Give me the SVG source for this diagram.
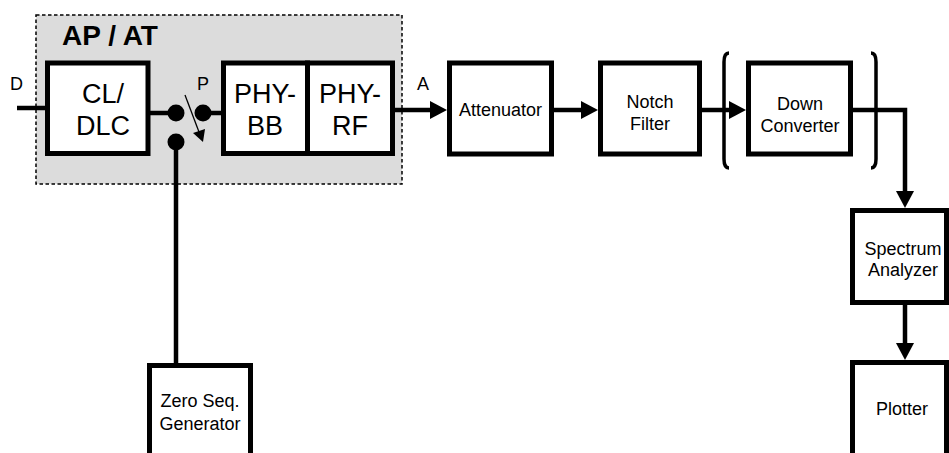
<svg xmlns="http://www.w3.org/2000/svg" width="949" height="453" viewBox="0 0 949 453">
<style>
.box{fill:#fff;stroke:#000;stroke-width:5}
.t{font-family:"Liberation Sans",Arial,sans-serif;font-size:18px;fill:#000;text-anchor:middle}
.big{font-family:"Liberation Sans",Arial,sans-serif;font-size:27px;fill:#000;text-anchor:middle}
.lbl{font-family:"Liberation Sans",Arial,sans-serif;font-size:18px;fill:#000}
.ln{fill:none;stroke:#000;stroke-width:4.5}
.arr{fill:none;stroke:#000;stroke-width:4.5;marker-end:url(#ah)}
.br{fill:none;stroke:#000;stroke-width:3.5}
</style>
<defs>
<marker id="ah" markerUnits="userSpaceOnUse" markerWidth="17" markerHeight="18" refX="0" refY="9" orient="auto">
<path d="M0,0 L17,9 L0,18 z" fill="#000"/>
</marker>
</defs>
<rect width="949" height="453" fill="#fff"/>
<g id="apat">
<rect x="36" y="15" width="366" height="169" fill="#dcdcdc" stroke="#000" stroke-width="1.5" stroke-dasharray="3.5,2.5"/>
<text x="62" y="45" style="font-family:'Liberation Sans',Arial,sans-serif;font-size:28px;font-weight:bold">AP / AT</text>
</g>
<g id="connectors">
<path class="ln" d="M17,108 H47"/>
<path class="ln" d="M148,113 H176"/>
<path class="ln" d="M203,113 H223"/>
<path class="ln" d="M176,142 V365"/>
<path class="arr" d="M392,110 H430"/>
<path class="arr" d="M554,110 H581"/>
<path class="arr" d="M701,110 H729"/>
<path class="arr" d="M851,110 H905 V191"/>
<path class="arr" d="M905,303 V343"/>
<line x1="185" y1="95" x2="199" y2="132" stroke="#000" stroke-width="1.3"/>
<polygon points="193,133 205,129 203,142" fill="#000"/>
</g>
<g id="dots">
<circle cx="176" cy="113" r="8.5" fill="#000"/>
<circle cx="203" cy="113" r="8.5" fill="#000"/>
<circle cx="176" cy="142" r="8.5" fill="#000"/>
</g>
<g id="cldlc">
<rect class="box" x="47.5" y="63" width="100.5" height="90.5"/>
<text class="big" x="103" y="103">CL/</text>
<text class="big" x="103" y="135">DLC</text>
</g>
<g id="phybb">
<rect class="box" x="223.5" y="63" width="84" height="90.5"/>
<text class="big" x="265" y="103">PHY-</text>
<text class="big" x="265" y="135">BB</text>
</g>
<g id="phyrf">
<rect class="box" x="307.5" y="63" width="85" height="90.5"/>
<text class="big" x="350" y="103">PHY-</text>
<text class="big" x="350" y="135">RF</text>
</g>
<g id="labels">
<text class="lbl" x="10" y="90">D</text>
<text class="lbl" x="197" y="90">P</text>
<text class="lbl" x="417" y="90">A</text>
</g>
<g id="attenuator">
<rect class="box" x="449.5" y="63" width="102" height="91"/>
<text class="t" x="500.5" y="116">Attenuator</text>
</g>
<g id="notch">
<rect class="box" x="600.5" y="63" width="99" height="91"/>
<text class="t" x="650" y="108">Notch</text>
<text class="t" x="650" y="130">Filter</text>
</g>
<g id="brackets">
<path class="br" d="M729,53 Q724,53 724,62 V159 Q724,168 729,168"/>
<path class="br" d="M871,53 Q876,53 876,62 V159 Q876,168 871,168"/>
</g>
<g id="downconv">
<rect class="box" x="748.5" y="63" width="102" height="91"/>
<text class="t" x="800" y="110">Down</text>
<text class="t" x="800" y="132">Converter</text>
</g>
<g id="spectrum">
<rect class="box" x="852.5" y="210.5" width="94" height="92"/>
<text class="t" x="903" y="255">Spectrum</text>
<text class="t" x="903" y="276">Analyzer</text>
</g>
<g id="plotter">
<rect class="box" x="852.5" y="362.5" width="94" height="110"/>
<text class="t" x="902" y="415">Plotter</text>
</g>
<g id="zeroseq">
<rect class="box" x="149.5" y="365.5" width="101" height="110"/>
<text class="t" x="200" y="407">Zero Seq.</text>
<text class="t" x="200" y="430">Generator</text>
</g>
</svg>
